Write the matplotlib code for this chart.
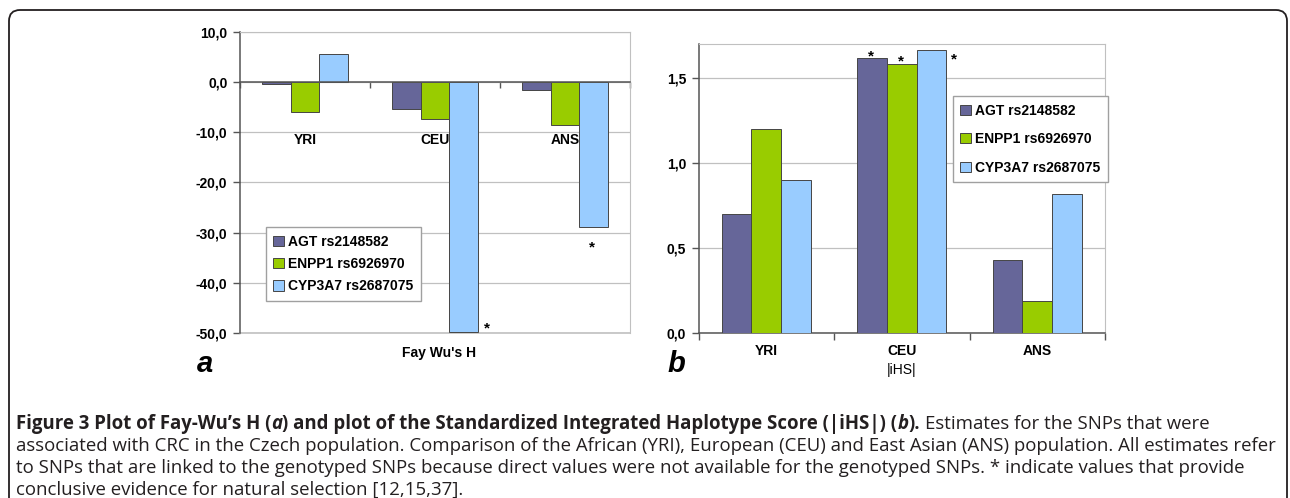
import matplotlib
matplotlib.use('Agg')
import matplotlib.pyplot as plt
from matplotlib.patches import Patch, FancyBboxPatch
from matplotlib.ticker import FuncFormatter
from matplotlib.transforms import IdentityTransform, blended_transform_factory
import numpy as np

# ---------------- data ----------------
populations = ['YRI', 'CEU', 'ANS']
snps = ['AGT rs2148582', 'ENPP1 rs6926970', 'CYP3A7 rs2687075']
colors = ['#666699', '#99cc00', '#99ccff']

fay_agt = [-0.3, -5.4, -1.6]
fay_enpp1 = [-5.9, -7.3, -8.5]
fay_cyp = [5.7, -49.8, -28.9]

ihs_agt = [0.70, 1.62, 0.43]
ihs_enpp1 = [1.20, 1.58, 0.19]
ihs_cyp = [0.90, 1.665, 0.82]

fay_ticks = [-50, -40, -30, -20, -10, 0, 10]
ihs_ticks = [0.0, 0.5, 1.0, 1.5]

# ---------------- style ----------------
plt.rcParams['font.family'] = ['Liberation Sans', 'DejaVu Sans']
plt.rcParams['font.weight'] = 'bold'

W, H = 1290, 498
fig = plt.figure(figsize=(W / 100, H / 100), dpi=100)


def px_axes(l, t, r, b):
    return fig.add_axes([l / W, 1 - b / H, (r - l) / W, (b - t) / H])


comma_fmt = FuncFormatter(lambda v, p: f'{v:.1f}'.replace('.', ','))
GRID = '#c0c0c0'
AXC = '#555555'
EDGE = '#454545'
width = 0.22
offsets = [-width, 0.0, width]
x = np.arange(len(populations))


def style_axes(ax):
    ax.set_axisbelow(True)
    ax.yaxis.grid(True, color=GRID, lw=0.9)
    ax.spines['top'].set_color(GRID)
    ax.spines['right'].set_color(GRID)
    ax.spines['left'].set_color(AXC)
    ax.spines['left'].set_linewidth(1.1)
    ax.yaxis.set_major_formatter(comma_fmt)
    ax.tick_params(axis='y', length=5, width=1, color=AXC, labelsize=10, pad=4)


def legend(ax, anchor, spacing):
    handles = [Patch(facecolor=c, edgecolor=EDGE, lw=0.7) for c in colors]
    lg = ax.legend(handles, snps, loc='upper left', bbox_to_anchor=anchor,
                   fontsize=10, frameon=True, fancybox=False, framealpha=1,
                   edgecolor='#a0a0a0', handlelength=0.75, handleheight=0.75,
                   handletextpad=0.3, labelspacing=spacing, borderpad=0.55,
                   borderaxespad=0)
    lg.get_frame().set_linewidth(1.0)


# ---------------- panel a ----------------
axA = px_axes(240, 32, 630, 333)
for vals, c, off in zip([fay_agt, fay_enpp1, fay_cyp], colors, offsets):
    axA.bar(x + off, vals, width, color=c, edgecolor=EDGE, linewidth=0.7, zorder=3)
axA.set_xlim(-0.5, 2.5)
axA.set_ylim(-50, 10)
axA.set_yticks(fay_ticks)
style_axes(axA)
axA.spines['bottom'].set_position(('data', 0))
axA.spines['bottom'].set_color(AXC)
axA.spines['bottom'].set_linewidth(1.1)
axA.spines['bottom'].set_zorder(4)
axA.set_xticks([-0.5, 0.5, 1.5, 2.5])
axA.set_xticklabels([])
axA.tick_params(axis='x', length=4, width=1, color=AXC, direction='out')
axA.axhline(-50, color=GRID, lw=1.2, clip_on=False, zorder=1)
for i, p in enumerate(populations):
    axA.text(i, -12.4, p, ha='center', va='baseline', fontsize=10)
axA.text(0.51, -0.0797, "Fay Wu's H", transform=axA.transAxes,
         ha='center', va='baseline', fontsize=10)
axA.text(1.40, -49.9, '*', ha='center', va='baseline', fontsize=11)
axA.text(2.21, -33.7, '*', ha='center', va='baseline', fontsize=11)
legend(axA, (0.066, 0.352), 0.6)

# ---------------- panel b ----------------
axB = px_axes(698.5, 44, 1105, 333)
for vals, c, off in zip([ihs_agt, ihs_enpp1, ihs_cyp], colors, offsets):
    axB.bar(x + off, vals, width, color=c, edgecolor=EDGE, linewidth=0.7, zorder=3)
axB.set_xlim(-0.5, 2.5)
axB.set_ylim(0, 1.7)
axB.set_yticks(ihs_ticks)
style_axes(axB)
axB.spines['bottom'].set_color(AXC)
axB.spines['bottom'].set_linewidth(1.1)
axB.set_xticks([-0.5, 0.5, 1.5, 2.5])
axB.set_xticklabels([])
axB.tick_params(axis='x', length=5, width=1, color=AXC, direction='out')
tB = blended_transform_factory(axB.transData, axB.transAxes)
for i, p in enumerate(populations):
    axB.text(i, -0.0761, p, transform=tB, ha='center', va='baseline', fontsize=10)
axB.text(0.5, -0.142, '|iHS|', transform=axB.transAxes, ha='center',
         va='baseline', fontsize=10, fontweight='normal')
axB.text(0.773, 1.606, '*', ha='center', va='baseline', fontsize=11)
axB.text(0.994, 1.572, '*', ha='center', va='baseline', fontsize=11)
axB.text(1.385, 1.588, '*', ha='center', va='baseline', fontsize=11)
legend(axB, (0.625, 0.820), 1.05)

# panel letters
fig.text(197 / W, 1 - 372 / H, 'a', fontsize=21, fontweight='bold', style='italic',
         va='baseline', ha='left')
fig.text(667 / W, 1 - 372 / H, 'b', fontsize=21, fontweight='bold', style='italic',
         va='baseline', ha='left')

# frame
frame = FancyBboxPatch((9, -30), 1278, 488 + 30,
                       boxstyle='round,pad=0,rounding_size=11',
                       transform=IdentityTransform(), fill=False,
                       ec='#231f20', lw=1.3)
fig.patches.append(frame)

# ---------------- caption ----------------
CAP = ['Open Sans', 'DejaVu Sans']
CAPC = '#231f20'
renderer = fig.canvas.get_renderer()

line2 = ('associated with CRC in the Czech population. Comparison of the African (YRI), '
         'European (CEU) and East Asian (ANS) population. All estimates refer')
probe = fig.text(0, 0, line2, fontsize=10, family=CAP, fontweight='normal')
w10 = probe.get_window_extent(renderer).width
probe.remove()
cap_size = 10 * 1260 / w10


def text_width(s, weight, style):
    t = fig.text(0, 0, s, fontsize=cap_size, family=CAP, fontweight=weight, style=style)
    w = t.get_window_extent(renderer).width
    t.remove()
    return w


def space_width(weight, style):
    return text_width('n n', weight, style) - text_width('nn', weight, style)


def draw_runs(runs, x0, y_top):
    xp = x0
    for s, weight, style in runs:
        lead = len(s) - len(s.lstrip(' '))
        trail = len(s) - len(s.rstrip(' '))
        sw = space_width(weight, style)
        xp += lead * sw
        core = s.strip(' ')
        t = fig.text(xp / W, 1 - y_top / H, core, fontsize=cap_size, family=CAP,
                     fontweight=weight, style=style, color=CAPC, va='baseline', ha='left')
        xp += t.get_window_extent(renderer).width + trail * sw


B, N = 'bold', 'normal'
lines = [
    [("Figure 3 Plot of Fay-Wu\u2019s H (", B, 'normal'), ('a', B, 'italic'),
     (') and plot of the Standardized Integrated Haplotype Score (|iHS|) (', B, 'normal'),
     ('b', B, 'italic'), (').', B, 'normal'),
     (' Estimates for the SNPs that were', N, 'normal')],
    [(line2, N, 'normal')],
    [('to SNPs that are linked to the genotyped SNPs because direct values were not '
      'available for the genotyped SNPs. * indicate values that provide', N, 'normal')],
    [('conclusive evidence for natural selection [12,15,37].', N, 'normal')],
]
baselines = [428.5, 450.7, 472.9, 495.1]
for runs, yb in zip(lines, baselines):
    draw_runs(runs, 16, yb)

fig.savefig('out.png', dpi=100)
